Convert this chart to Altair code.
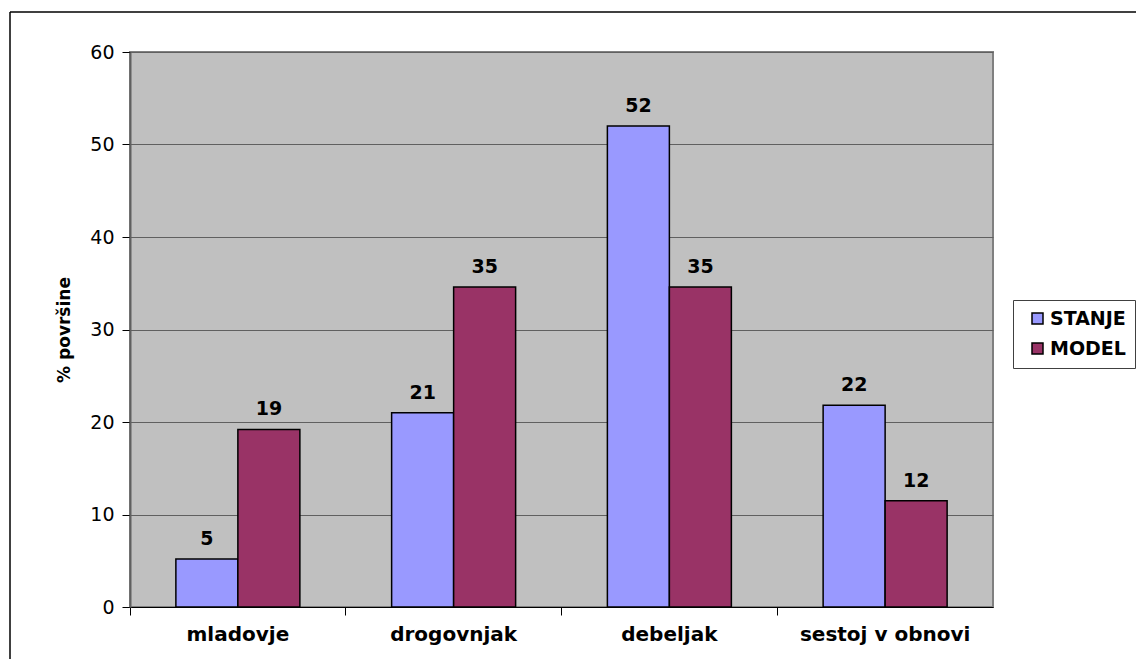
import altair as alt
import pandas as pd

categories = ["mladovje", "drogovnjak", "debeljak", "sestoj v obnovi"]
series = ["STANJE", "MODEL"]
stanje = [5.2, 21.0, 52.0, 21.8]
model = [19.2, 34.6, 34.6, 11.5]
colors = ["#9999FF", "#993366"]

rows = []
for i, c in enumerate(categories):
    rows.append({"kat": c, "serija": "STANJE", "v": stanje[i], "lab": str(round(stanje[i]))})
    rows.append({"kat": c, "serija": "MODEL", "v": model[i], "lab": str(round(model[i]))})
df = pd.DataFrame(rows)

FONT = "DejaVu Sans"

x = alt.X("kat:N", sort=categories, title=None,
          scale=alt.Scale(paddingInner=0, paddingOuter=0),
          axis=alt.Axis(labelAngle=0, labelFont=FONT, labelFontSize=20, labelFontWeight="bold",
                        labelColor="black", bandPosition=0, ticks=True, tickSize=8, tickColor="black",
                        domainColor="black", domainWidth=1, labelPadding=9))
xo = alt.XOffset("serija:N", sort=series, scale=alt.Scale(domain=series, paddingOuter=0.74, paddingInner=0))
y = alt.Y("v:Q", title="% površine",
          scale=alt.Scale(domain=[0, 60], nice=False),
          axis=alt.Axis(values=[0, 10, 20, 30, 40, 50, 60], labelFont=FONT, labelFontSize=19,
                        labelColor="black", titleFont=FONT, titleFontSize=17, titleFontWeight="bold",
                        titleColor="black", tickColor="black", tickSize=8, domainColor="#606060",
                        domainWidth=2, gridColor="#606060", gridWidth=1, labelPadding=8, titlePadding=16))

base = alt.Chart(df)
bars = base.mark_bar(stroke="black", strokeWidth=1.5).encode(
    x=x, xOffset=xo, y=y,
    color=alt.Color("serija:N", sort=series,
                    scale=alt.Scale(domain=series, range=colors),
                    legend=alt.Legend(title=None, orient="none", legendX=883, legendY=248,
                                      fillColor="white", strokeColor="#404040", padding=9,
                                      symbolType="square", symbolSize=121, symbolStrokeColor="black",
                                      symbolStrokeWidth=1.5, labelFont=FONT, labelFontSize=19,
                                      labelFontWeight="bold", labelColor="black", rowPadding=10,
                                      symbolOffset=6, labelOffset=3)),
)
labels = base.mark_text(dy=-20, font=FONT, fontSize=19, fontWeight="bold", color="black").encode(
    x=x, xOffset=xo, y=y, text="lab:N")

frame_top = alt.Chart(pd.DataFrame({"a": [0]})).mark_rule(color="black", strokeWidth=1.5).encode(
    x=alt.value(-120), x2=alt.value(1200), y=alt.value(-40))
frame_left = alt.Chart(pd.DataFrame({"a": [0]})).mark_rule(color="black", strokeWidth=1.5).encode(
    x=alt.value(-120), y=alt.value(-40), y2=alt.value(700))

chart = alt.layer(bars, labels, frame_top, frame_left).properties(
    width=863, height=555,
    autosize=alt.AutoSizeParams(type="none"),
    padding={"left": 122, "top": 44, "right": 143, "bottom": 52},
    background="white",
).configure_view(fill="#C0C0C0", stroke="#808080", strokeWidth=2)

chart.save("out.html", embed_options={"renderer": "svg", "actions": False})
